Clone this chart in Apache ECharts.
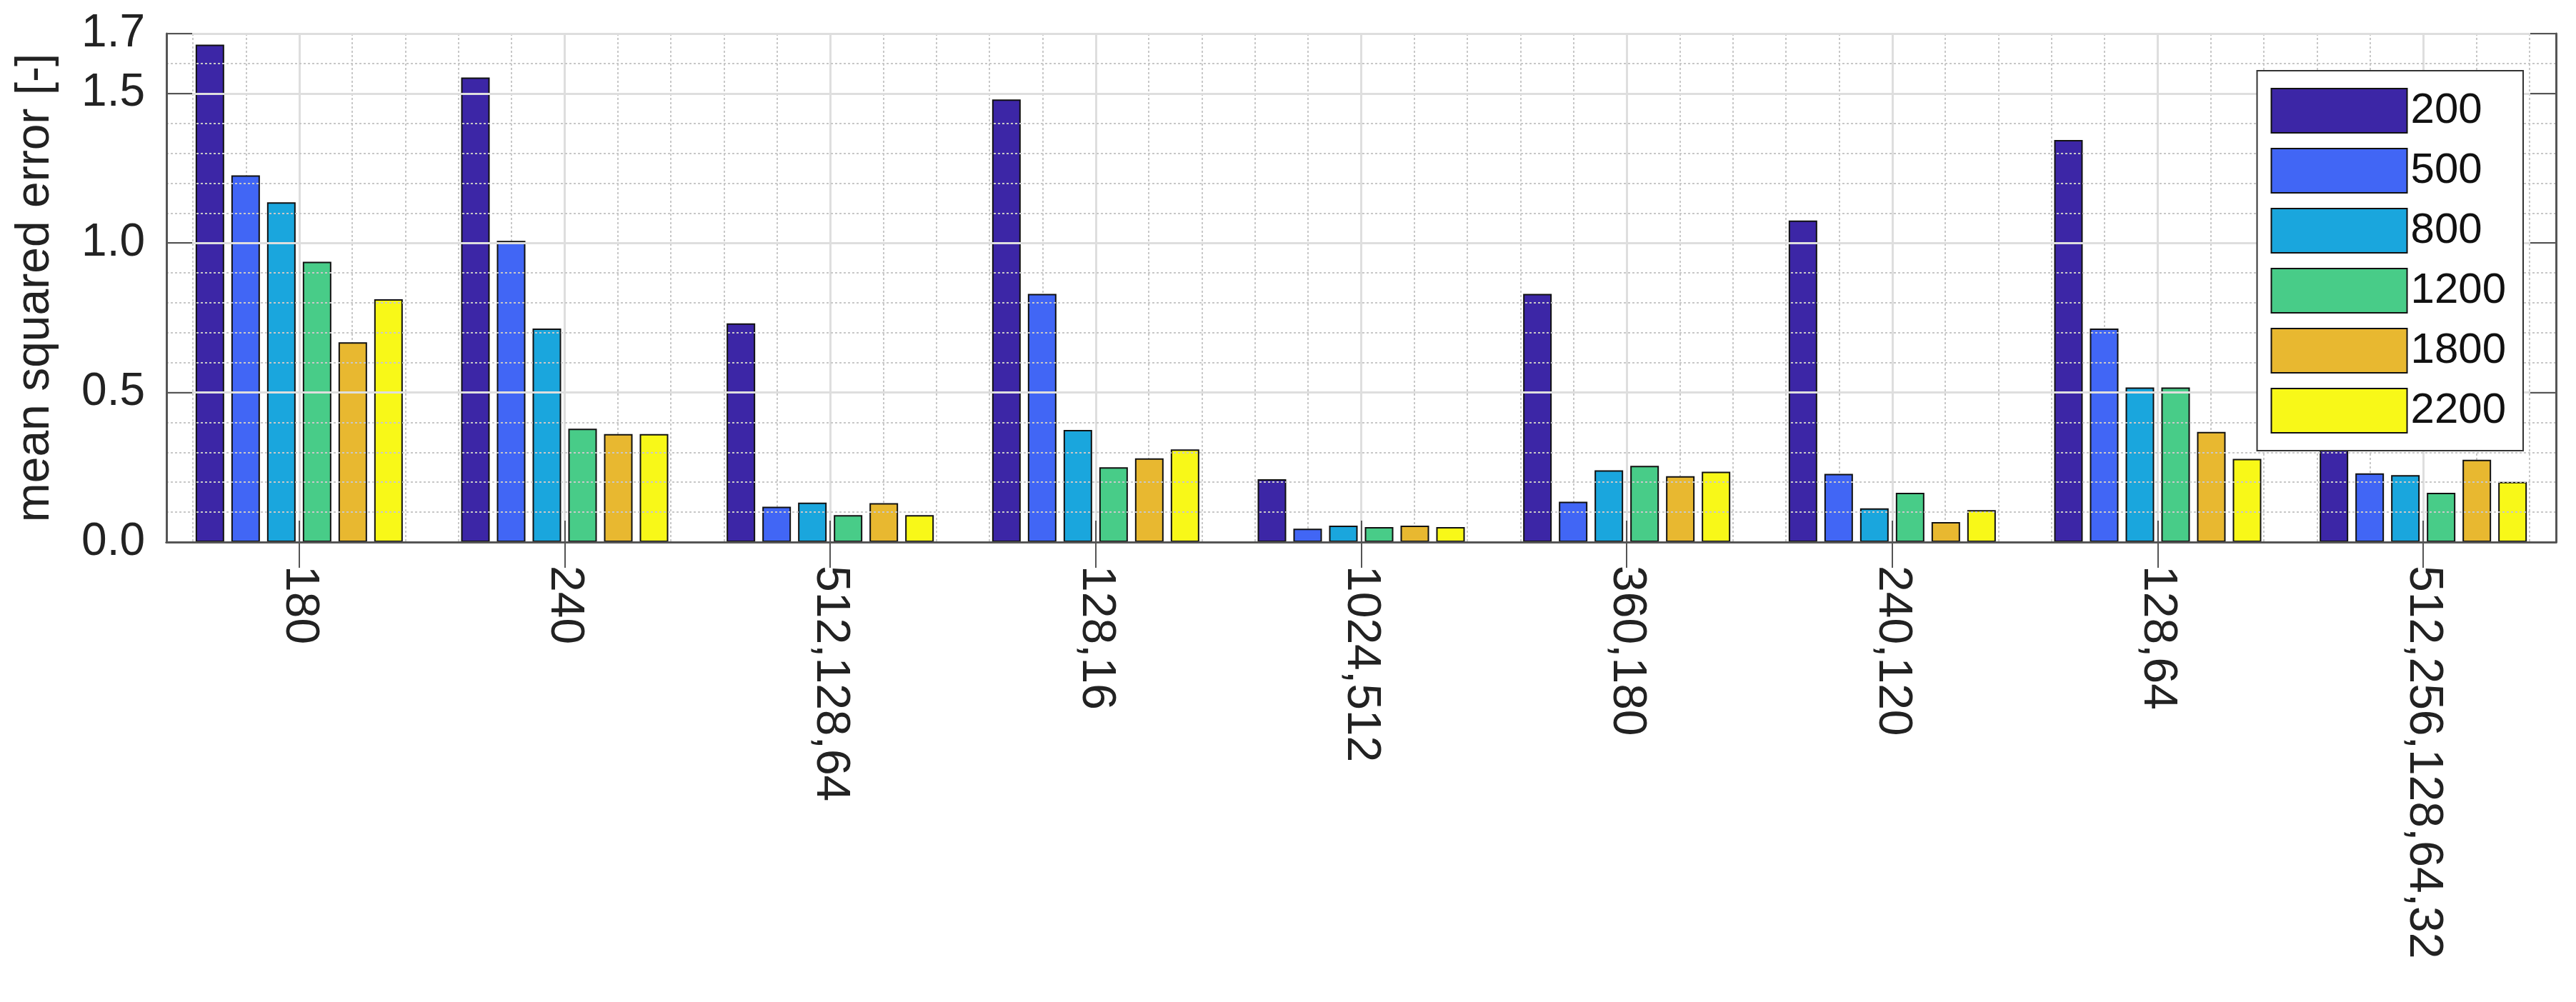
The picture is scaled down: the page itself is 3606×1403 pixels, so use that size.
<!DOCTYPE html>
<html><head><meta charset="utf-8">
<script src="https://cdn.jsdelivr.net/npm/echarts@6/dist/echarts.min.js"></script>
<style>html,body{margin:0;padding:0;background:#fff}#c{width:3606px;height:1403px}</style>
</head><body><div id="c"></div>
<script>
const categories = ['180','240','512,128,64','128,16','1024,512','360,180','240,120','128,64','512,256,128,64,32'];
const seriesNames = ['200','500','800','1200','1800','2200'];
const s200  = [1.663,1.553,0.731,1.48,0.21,0.83,1.075,1.344,0.335];
const s500  = [1.226,1.007,0.118,0.83,0.045,0.135,0.228,0.714,0.230];
const s800  = [1.136,0.714,0.132,0.375,0.055,0.24,0.113,0.517,0.224];
const s1200 = [0.937,0.379,0.09,0.25,0.05,0.255,0.165,0.517,0.165];
const s1800 = [0.668,0.361,0.13,0.28,0.055,0.22,0.067,0.368,0.275];
const s2200 = [0.812,0.361,0.09,0.31,0.05,0.235,0.107,0.278,0.201];
const yTickLabels = ['0.0','0.5','1.0','1.5','1.7'];
const colors = ['#3c26a6','#4166f5','#1aa6dd','#48cc88','#e8b830','#f8f818'];
const allData = [s200,s500,s800,s1200,s1800,s2200];

const W = 3578-233;
const font = 'Liberation Sans, Arial, sans-serif';
const chart = echarts.init(document.getElementById('c'));
chart.setOption({
  animation:false,
  backgroundColor:'#fff',
  grid:[
    {left:233,right:28,top:47,bottom:644,show:false},
    {left:233+W/90,right:28+W/90,top:47,bottom:644,show:false},
    {left:233+W/18,right:28+W/18,top:47,bottom:644,show:false}
  ],
  legend:{
    orient:'vertical', right:74, top:99, itemWidth:190, itemHeight:62, itemGap:20,
    padding:[24,24,24,19], borderColor:'#333', borderWidth:2, backgroundColor:'#fff',
    textStyle:{fontSize:60,fontFamily:font,color:'#111'}, icon:'rect', data:seriesNames, z:20
  },
  xAxis:[
    {type:'category',gridIndex:0,data:categories,boundaryGap:true,
     axisLine:{lineStyle:{color:'#555',width:3}},
     axisTick:{show:true,inside:true,alignWithLabel:true,length:30,lineStyle:{color:'#555',width:2}},
     axisLabel:{rotate:-90,fontSize:66,fontFamily:font,color:'#222',margin:33,interval:0},
     splitLine:{show:false},z:5},
    {type:'category',gridIndex:0,position:'top',data:categories,boundaryGap:true,
     axisLine:{lineStyle:{color:'#555',width:3}},
     axisTick:{show:true,inside:true,alignWithLabel:true,length:36,lineStyle:{color:'#555',width:2}},
     axisLabel:{show:false},splitLine:{show:false},z:5},
    {type:'value',gridIndex:1,min:0,max:44,interval:1,axisLine:{show:false},axisTick:{show:false},axisLabel:{show:false},
     splitLine:{show:true,lineStyle:{color:'#c8c8c8',width:2,type:[3,3]}}},
    {type:'value',gridIndex:2,min:0,max:8,interval:1,axisLine:{show:false},axisTick:{show:false},axisLabel:{show:false},
     splitLine:{show:true,lineStyle:{color:'#dedede',width:3}}}
  ],
  yAxis:[
    {type:'value',gridIndex:0,min:0,max:1.7,interval:0.1,
     name:'mean squared error [-]',nameLocation:'middle',nameGap:150,
     nameTextStyle:{fontSize:66,fontFamily:font,color:'#222'},
     axisLine:{show:true,lineStyle:{color:'#555',width:3}},axisTick:{show:false},
     axisLabel:{fontSize:64,fontFamily:font,color:'#222',margin:30,
       formatter:v=>{const r=Math.round(v*10);const s=(r/10).toFixed(1);return yTickLabels.includes(s)?s:'';}},
     splitLine:{show:true,lineStyle:{color:'#c8c8c8',width:2,type:[3,3]}},z:5},
    {type:'value',gridIndex:0,min:0,max:1.7,interval:0.5,position:'left',
     axisLine:{show:false},axisTick:{show:true,inside:true,length:36,lineStyle:{color:'#555',width:2}},
     axisLabel:{show:false},splitLine:{show:true,lineStyle:{color:'#dedede',width:3}},z:5},
    {type:'value',gridIndex:0,min:0,max:1.7,interval:0.5,position:'right',
     axisLine:{show:true,lineStyle:{color:'#555',width:3}},axisTick:{show:true,inside:true,length:36,lineStyle:{color:'#555',width:2}},
     axisLabel:{show:false},splitLine:{show:false},z:5},
    {type:'value',gridIndex:1,min:0,max:1,show:false},
    {type:'value',gridIndex:2,min:0,max:1,show:false}
  ],
  series: seriesNames.map((n,i)=>({
    name:n,type:'bar',xAxisIndex:0,yAxisIndex:0,data:allData[i],
    barWidth:40,barGap:'25%',z:3,
    itemStyle:{color:colors[i],borderColor:'#111',borderWidth:2}
  })).concat([
    {type:'line',xAxisIndex:2,yAxisIndex:3,data:[],silent:true},
    {type:'line',xAxisIndex:3,yAxisIndex:4,data:[],silent:true}
  ])
});
</script></body></html>
